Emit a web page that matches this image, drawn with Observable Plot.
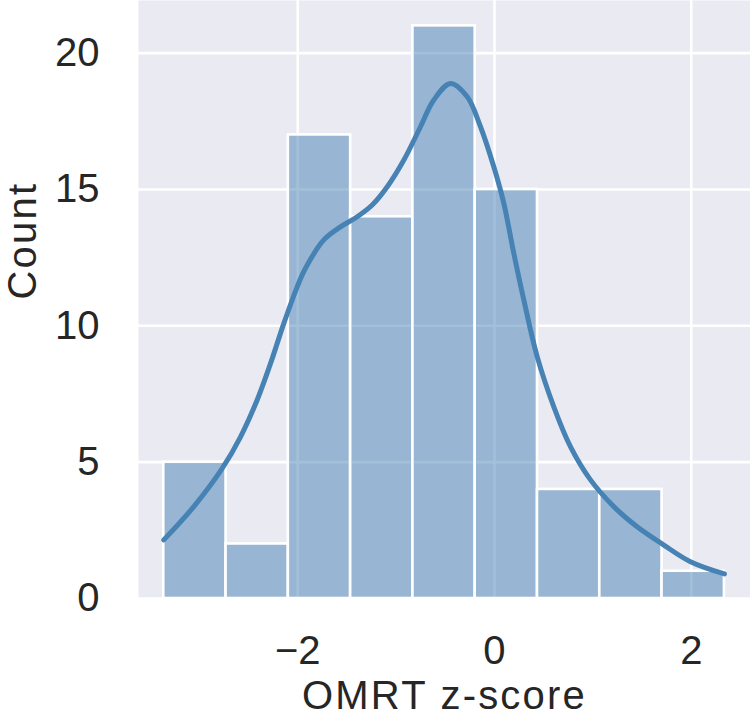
<!DOCTYPE html>
<html>
<head>
<meta charset="utf-8">
<script src="https://cdn.jsdelivr.net/npm/d3@7"></script>
<script src="https://cdn.jsdelivr.net/npm/@observablehq/plot@0.6"></script>
<style>
  html, body { margin: 0; padding: 0; background: #ffffff; }
  #chart svg { display: block; }
  #chart svg .axis-title text { letter-spacing: 2.2px; }
</style>
</head>
<body>
<div id="chart"></div>
<script>
// Histogram bins (OMRT z-score)
const binEdges = [-3.361, -2.728, -2.095, -1.462, -0.829, -0.196, 0.437, 1.070, 1.703, 2.337];
const binCounts = [5, 2, 17, 14, 21, 15, 4, 4, 1];

// KDE curve (x in z-score units, y in count units)
const kdeX = [-3.361, -3.056, -2.767, -2.581, -2.412, -2.276, -2.141, -2.005, -1.921, -1.735, -1.565, -1.395, -1.243, -1.090, -0.921, -0.752, -0.617, -0.447, -0.277, -0.142, -0.007, 0.095, 0.196, 0.298, 0.434, 0.603, 0.772, 0.976, 1.213, 1.450, 1.721, 1.992, 2.337];
const kdeY = [2.15, 3.37, 4.77, 5.93, 7.28, 8.62, 10.09, 11.43, 12.11, 13.15, 13.63, 14.00, 14.43, 15.10, 16.08, 17.30, 18.28, 18.89, 18.40, 17.30, 15.83, 14.49, 12.66, 10.95, 8.87, 7.03, 5.57, 4.35, 3.37, 2.63, 1.96, 1.35, 0.90];

const xTicks = [-2, 0, 2];
const yTicks = [0, 5, 10, 15, 20];
const xLabel = "OMRT z-score";
const yLabel = "Count";

const bins = binCounts.map((c, i) => ({x1: binEdges[i], x2: binEdges[i + 1], count: c}));
const kde = kdeX.map((x, i) => ({x, y: kdeY[i]}));

const fmt = d => String(d).replace("-", "\u2212");
const textColor = "#262626";
const fontFamily = "'Liberation Sans', Arial, Helvetica, sans-serif";

const chart = Plot.plot({
  width: 750,
  height: 718,
  marginLeft: 138,
  marginRight: 0,
  marginTop: 0,
  marginBottom: 120,
  style: {fontFamily, fontSize: "40px", color: textColor, background: "#ffffff"},
  x: {domain: [-3.618, 2.602], ticks: xTicks, tickFormat: fmt, label: null},
  y: {domain: [0, 21.93], ticks: yTicks, label: null},
  marks: [
    Plot.frame({fill: "#eaeaf2", stroke: null}),
    Plot.gridX(xTicks, {stroke: "#ffffff", strokeOpacity: 1, strokeWidth: 2.6}),
    Plot.gridY(yTicks, {stroke: "#ffffff", strokeOpacity: 1, strokeWidth: 2.6}),
    Plot.rectY(bins, {x1: "x1", x2: "x2", y: "count", fill: "#4682b4", fillOpacity: 0.5, stroke: "#ffffff", strokeWidth: 2.6}),
    Plot.line(kde, {x: "x", y: "y", stroke: "#4682b4", strokeWidth: 5, curve: "catmull-rom", strokeLinecap: "round", strokeLinejoin: "round"}),
    Plot.axisX(xTicks, {tickSize: 0, tickPadding: 37, tickFormat: fmt, fontSize: 40, fill: textColor, label: null}),
    Plot.axisY(yTicks, {tickSize: 0, tickPadding: 39, fontSize: 40, fill: textColor, label: null}),
    Plot.text([xLabel], {frameAnchor: "bottom", dy: 110, lineAnchor: "bottom", fontSize: 40, fill: textColor, text: d => d, className: "axis-title"}),
    Plot.text([yLabel], {frameAnchor: "left", dx: -103, rotate: -90, lineAnchor: "bottom", fontSize: 40, fill: textColor, text: d => d, className: "axis-title"})
  ]
});

document.getElementById("chart").appendChild(chart);
</script>
</body>
</html>
